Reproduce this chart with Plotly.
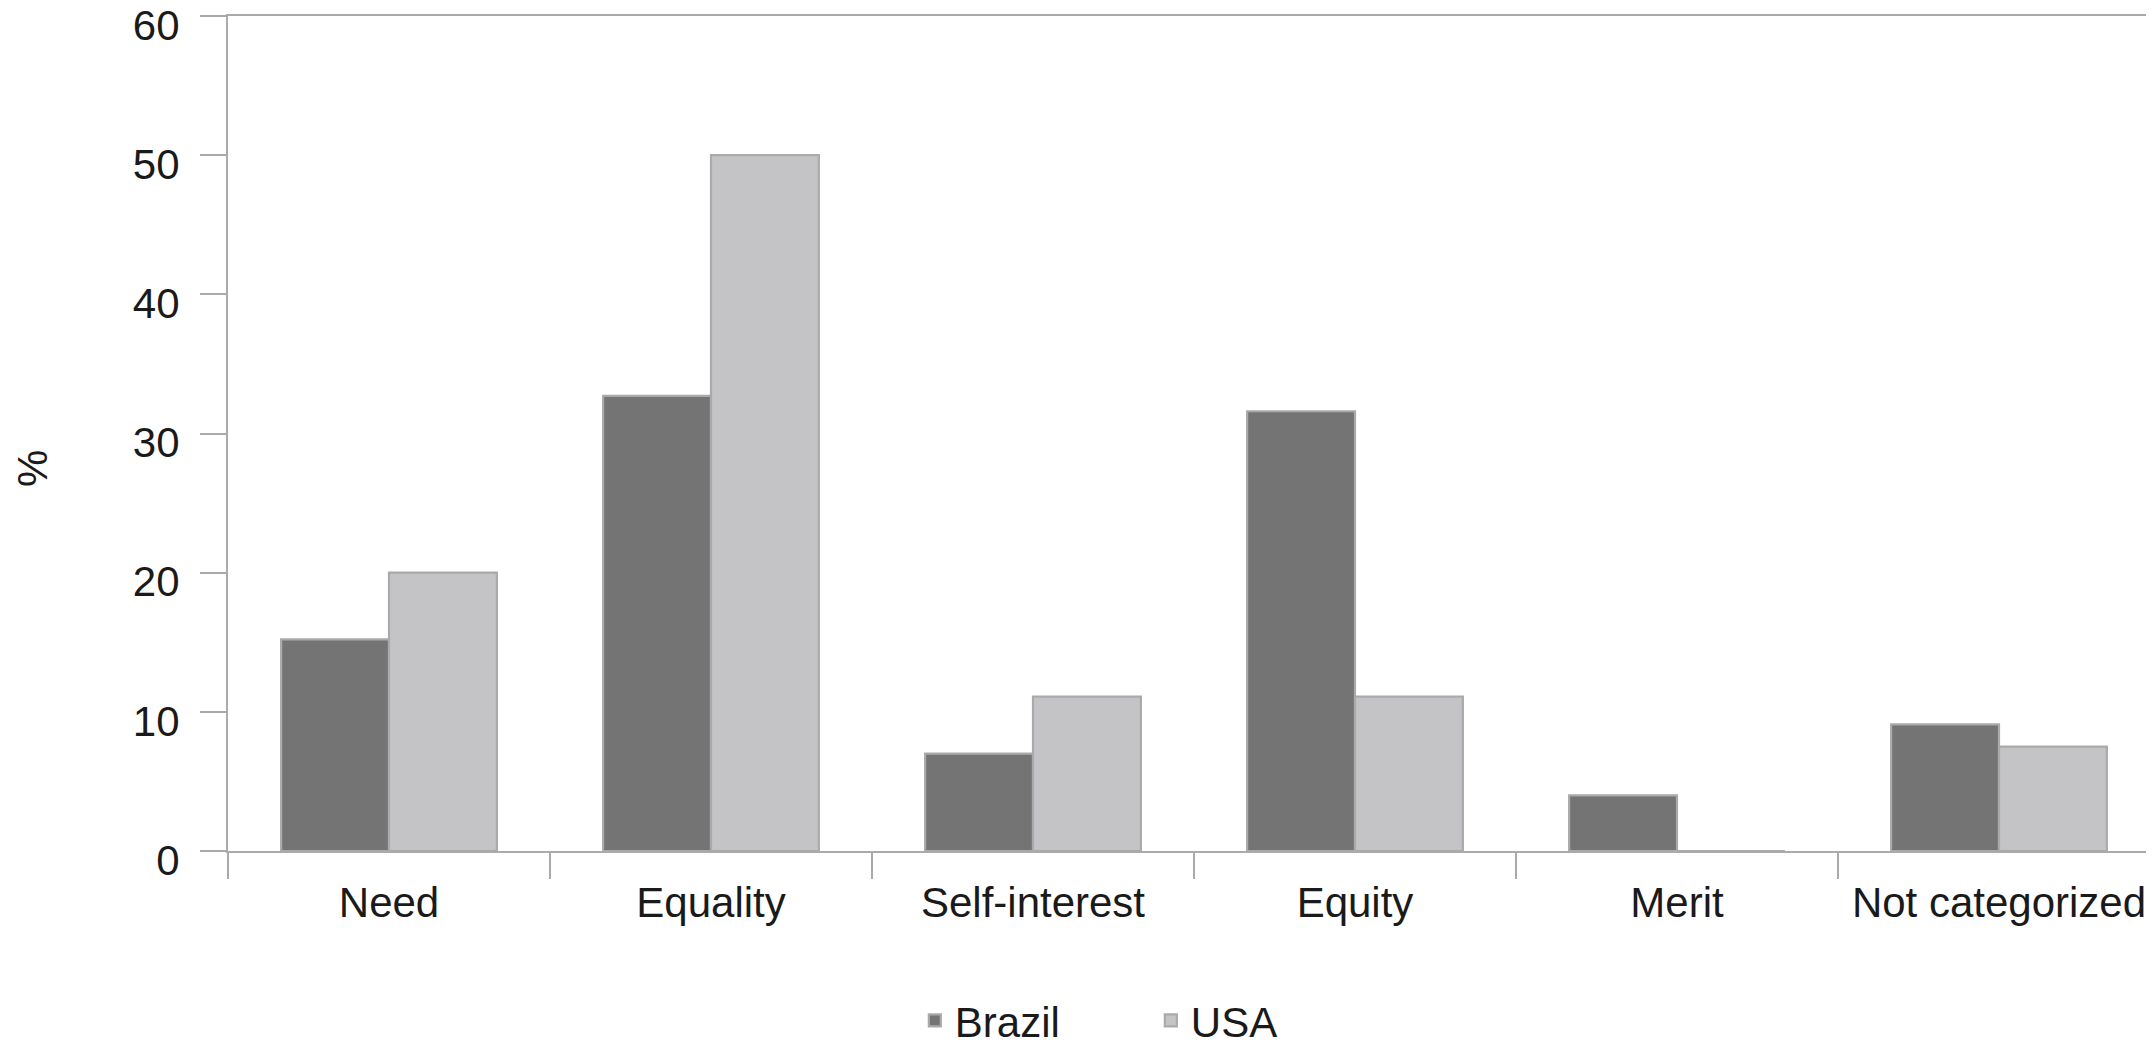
import plotly.graph_objects as go

categories = ["Need", "Equality", "Self-interest", "Equity", "Merit", "Not categorized"]
brazil = [15.2, 32.7, 7.0, 31.6, 4.0, 9.1]
usa = [20.0, 50.0, 11.1, 11.1, 0.0, 7.5]
y_ticks = [0, 10, 20, 30, 40, 50, 60]

FONT = "Liberation Sans, Arial, Helvetica, sans-serif"
AXIS_COLOR = "#aaaaac"
FS = 42
LW = 2.2

fig = go.Figure()
fig.add_trace(go.Bar(name="Brazil", x=categories, y=brazil,
                     marker=dict(color="#747474", line=dict(color=AXIS_COLOR, width=LW))))
fig.add_trace(go.Bar(name="USA", x=categories, y=usa,
                     marker=dict(color="#c4c4c6", line=dict(color=AXIS_COLOR, width=LW))))

fig.update_layout(
    width=2154, height=1045,
    paper_bgcolor="white", plot_bgcolor="white",
    margin=dict(l=220, r=2, t=8, b=202),
    barmode="group", bargap=0.33, bargroupgap=0,
    font=dict(family=FONT, size=FS, color="#1a1a1a"),
    showlegend=True,
    legend=dict(orientation="h", xref="container", yref="container",
                x=0.421, xanchor="left", y=0.031, yanchor="middle",
                font=dict(size=FS), entrywidth=191, entrywidthmode="pixels"),
    annotations=[dict(text="%", xref="paper", yref="paper", x=-0.1009, y=0.4575,
                      xanchor="center", yanchor="middle", textangle=-90,
                      showarrow=False, font=dict(size=FS, family=FONT, color="#1a1a1a"))],
)
fig.update_xaxes(type="category", showline=True, linecolor=AXIS_COLOR, linewidth=LW,
                 mirror=True, ticks="outside", tickson="boundaries", ticklen=26,
                 tickwidth=LW, tickcolor=AXIS_COLOR, showgrid=False,
                 ticklabelstandoff=13, automargin=False)
fig.update_yaxes(range=[0, 60], tickvals=y_ticks, showline=True, linecolor=AXIS_COLOR,
                 linewidth=LW, mirror=True, ticks="outside", ticklen=26, tickwidth=LW,
                 tickcolor=AXIS_COLOR, showgrid=False, zeroline=False,
                 ticklabelstandoff=12, ticklabelshift=9, ticklabeloverflow="allow",
                 automargin=False)

fig.write_html("out.html")
